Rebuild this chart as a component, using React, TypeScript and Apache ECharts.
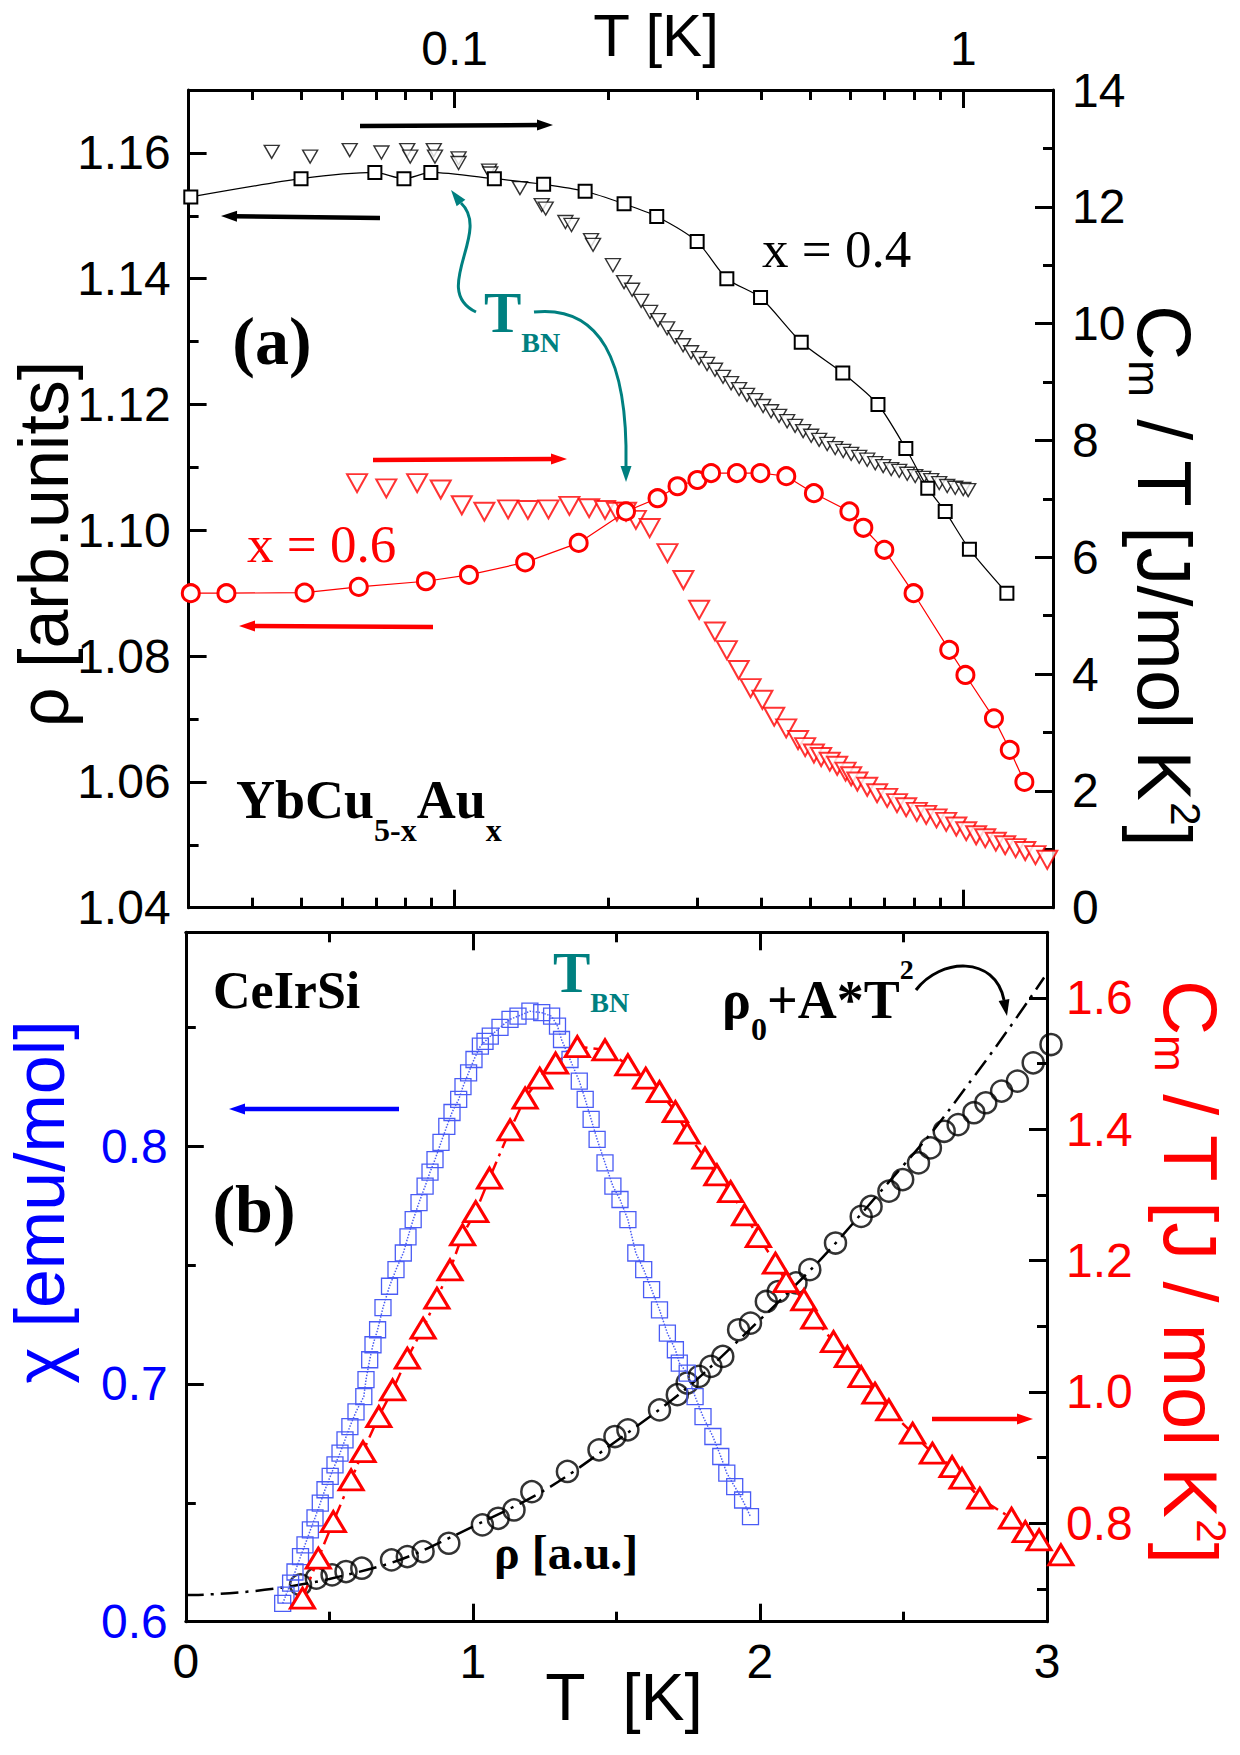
import React, { useEffect, useRef } from "react";
import * as echarts from "echarts";

const SANS = '"Liberation Sans", Arial, Helvetica, sans-serif';
const SERIF = '"Liberation Serif", "Times New Roman", Times, serif';
const RED = "#ff0000";
const BLUE = "#0000ff";
const TEAL = "#008080";
const SQBLUE = "#4a5cf5";

// ---------- Panel (a): YbCu5-xAux, T on log axis ----------
// x = 0.4 resistivity (squares, left axis)
const x04RhoT = [0.0303, 0.0499, 0.0697, 0.0795, 0.0898, 0.1197, 0.1496, 0.1805, 0.2153, 0.2496, 0.2997, 0.3428, 0.3993, 0.48, 0.5793, 0.6793, 0.7706, 0.8511, 0.9209, 1.0276, 1.2175];
const x04Rho = [1.153, 1.1559, 1.1569, 1.1559, 1.1569, 1.1559, 1.155, 1.1539, 1.1519, 1.1499, 1.1459, 1.14, 1.137, 1.1299, 1.125, 1.12, 1.113, 1.1067, 1.103, 1.097, 1.09];
// x = 0.4 Cm/T (down triangles, right axis)
const x04CmT = [0.0437, 0.052, 0.0622, 0.0718, 0.0807, 0.0818, 0.091, 0.0915, 0.1018, 0.1018, 0.1169, 0.1175, 0.1344, 0.1483, 0.151, 0.1651, 0.1697, 0.1854, 0.1871, 0.2047, 0.2153, 0.2233, 0.2326, 0.2422, 0.2511, 0.2616, 0.2713, 0.2812, 0.2916, 0.3023, 0.3134, 0.3249, 0.3369, 0.3494, 0.3623, 0.3756, 0.3895, 0.4039, 0.4188, 0.4343, 0.4503, 0.4669, 0.4842, 0.5021, 0.5206, 0.5398, 0.5597, 0.5804, 0.6018, 0.624, 0.647, 0.6709, 0.6956, 0.7212, 0.7478, 0.7754, 0.8039, 0.8336, 0.8643, 0.8962, 0.9292, 0.9636, 0.9991, 1.0219];
const x04Cm = [12.94, 12.86, 12.97, 12.93, 12.97, 12.86, 12.97, 12.86, 12.83, 12.75, 12.62, 12.57, 12.32, 12.03, 11.97, 11.74, 11.69, 11.43, 11.35, 11.0, 10.71, 10.58, 10.39, 10.2, 10.06, 9.92, 9.77, 9.63, 9.51, 9.41, 9.31, 9.21, 9.09, 8.98, 8.88, 8.78, 8.69, 8.59, 8.5, 8.42, 8.33, 8.25, 8.16, 8.08, 8.01, 7.94, 7.87, 7.82, 7.77, 7.72, 7.67, 7.61, 7.56, 7.51, 7.48, 7.43, 7.39, 7.36, 7.32, 7.27, 7.22, 7.19, 7.17, 7.15];
// x = 0.6 resistivity (circles, left axis)
const x06RhoT = [0.0303, 0.0356, 0.0507, 0.0648, 0.0878, 0.1067, 0.1376, 0.1753, 0.2172, 0.2505, 0.2742, 0.3, 0.3192, 0.3587, 0.399, 0.4486, 0.5083, 0.5969, 0.6358, 0.6992, 0.798, 0.9377, 1.0091, 1.1482, 1.2332, 1.3177];
const x06Rho = [1.09, 1.09, 1.0901, 1.091, 1.0919, 1.0929, 1.0949, 1.098, 1.103, 1.1051, 1.107, 1.108, 1.1091, 1.1091, 1.1091, 1.1086, 1.1059, 1.103, 1.1004, 1.0969, 1.09, 1.081, 1.077, 1.0701, 1.0651, 1.06];
// x = 0.6 Cm/T (down triangles, right axis)
const x06CmT = [0.0643, 0.0734, 0.0844, 0.0939, 0.1033, 0.1144, 0.1274, 0.1393, 0.1529, 0.1681, 0.1838, 0.1975, 0.2084, 0.2172, 0.2271, 0.2417, 0.262, 0.2816, 0.3024, 0.3248, 0.3428, 0.3617, 0.3817, 0.4026, 0.4248, 0.4484, 0.4731, 0.4886, 0.5084, 0.5253, 0.5462, 0.5648, 0.5866, 0.6018, 0.6188, 0.647, 0.6767, 0.7083, 0.7404, 0.7718, 0.8099, 0.8449, 0.8854, 0.9251, 0.9683, 1.0128, 1.0593, 1.1038, 1.158, 1.2082, 1.2666, 1.3228, 1.3854, 1.4615];
const x06Cm = [7.27, 7.18, 7.27, 7.16, 6.89, 6.78, 6.82, 6.81, 6.82, 6.88, 6.84, 6.81, 6.78, 6.78, 6.64, 6.5, 6.07, 5.61, 5.1, 4.73, 4.41, 4.07, 3.76, 3.56, 3.27, 3.07, 2.87, 2.75, 2.64, 2.58, 2.5, 2.43, 2.33, 2.25, 2.16, 2.07, 1.96, 1.88, 1.79, 1.72, 1.64, 1.59, 1.53, 1.47, 1.39, 1.31, 1.24, 1.19, 1.13, 1.07, 1.02, 0.97, 0.9, 0.82];

// ---------- Panel (b): CeIrSi, linear T ----------
const chiT = [0.3375, 0.349, 0.3651, 0.3804, 0.3996, 0.4152, 0.434, 0.4501, 0.4685, 0.4849, 0.503, 0.5197, 0.5372, 0.5546, 0.5716, 0.5929, 0.6201, 0.6277, 0.6406, 0.6521, 0.6681, 0.6869, 0.7096, 0.7322, 0.7577, 0.774, 0.7921, 0.8124, 0.8336, 0.8507, 0.8681, 0.889, 0.9092, 0.9273, 0.9506, 0.9656, 0.9851, 1.0039, 1.0262, 1.0423, 1.0607, 1.0945, 1.1294, 1.1572, 1.1987, 1.2398, 1.2743, 1.2948, 1.3088, 1.3384, 1.3707, 1.3913, 1.4119, 1.4328, 1.4603, 1.4878, 1.5125, 1.5401, 1.5676, 1.5951, 1.6226, 1.6501, 1.6776, 1.7055, 1.7191, 1.7466, 1.7741, 1.8017, 1.8361, 1.8636, 1.8846, 1.9121, 1.9396, 1.9671];
const chi = [0.6077, 0.6112, 0.6162, 0.6209, 0.6274, 0.6323, 0.6386, 0.6437, 0.6499, 0.6555, 0.6611, 0.666, 0.6709, 0.6765, 0.6821, 0.6883, 0.6947, 0.7018, 0.7102, 0.7165, 0.7228, 0.7321, 0.7411, 0.7481, 0.7551, 0.7619, 0.7691, 0.7763, 0.7832, 0.7891, 0.7944, 0.8016, 0.8084, 0.8142, 0.8197, 0.8251, 0.8309, 0.8365, 0.8421, 0.8441, 0.8463, 0.85, 0.8534, 0.8547, 0.8568, 0.8562, 0.8547, 0.8505, 0.8449, 0.8365, 0.8274, 0.8197, 0.8113, 0.8029, 0.793, 0.7832, 0.7776, 0.7691, 0.7551, 0.7481, 0.7397, 0.7312, 0.7214, 0.7144, 0.7088, 0.7046, 0.6947, 0.6863, 0.6779, 0.6695, 0.6625, 0.6568, 0.6512, 0.6442];
const cmT = [0.4065, 0.4616, 0.5138, 0.5758, 0.6173, 0.6723, 0.7204, 0.7716, 0.8266, 0.8747, 0.9203, 0.9642, 1.0099, 1.0579, 1.1297, 1.182, 1.2328, 1.2882, 1.3638, 1.4603, 1.54, 1.6021, 1.6501, 1.7055, 1.7466, 1.8086, 1.8501, 1.8981, 1.9466, 1.9946, 2.0539, 2.0911, 2.1531, 2.1876, 2.2563, 2.3047, 2.3527, 2.4008, 2.4492, 2.5318, 2.6008, 2.6694, 2.7039, 2.7659, 2.8763, 2.9244, 2.9725, 3.0484];
const cm = [0.6858, 0.7467, 0.8024, 0.866, 0.9091, 0.9624, 1.003, 1.0513, 1.097, 1.1427, 1.1858, 1.2391, 1.2746, 1.3255, 1.3991, 1.4474, 1.4778, 1.5007, 1.526, 1.521, 1.4981, 1.4778, 1.4574, 1.427, 1.3941, 1.356, 1.3305, 1.3051, 1.2696, 1.2366, 1.196, 1.168, 1.1401, 1.1123, 1.0766, 1.0538, 1.0233, 0.998, 0.9726, 0.9371, 0.9066, 0.8862, 0.8685, 0.8381, 0.8076, 0.7872, 0.7746, 0.7517];
const rhoT = [0.3996, 0.4546, 0.5096, 0.5581, 0.6131, 0.7166, 0.7716, 0.8266, 0.9162, 1.0332, 1.0882, 1.1433, 1.2053, 1.3293, 1.4394, 1.4948, 1.54, 1.6501, 1.7121, 1.7466, 1.7881, 1.8292, 1.8706, 1.9257, 1.9671, 2.0222, 2.0636, 2.1256, 2.1737, 2.2632, 2.3527, 2.3872, 2.4492, 2.4973, 2.5523, 2.5938, 2.6419, 2.6903, 2.7453, 2.7868, 2.8418, 2.8969, 2.9519, 3.0139];
const rho = [0.6155, 0.6183, 0.6197, 0.6211, 0.6225, 0.626, 0.6274, 0.6295, 0.633, 0.6407, 0.6435, 0.647, 0.6547, 0.6632, 0.6723, 0.6779, 0.6807, 0.6891, 0.6955, 0.7004, 0.7032, 0.7074, 0.7116, 0.7228, 0.7256, 0.7347, 0.7389, 0.7425, 0.7481, 0.7593, 0.7705, 0.7747, 0.7811, 0.786, 0.793, 0.7993, 0.8063, 0.8091, 0.8141, 0.8183, 0.8232, 0.8274, 0.8351, 0.8428];
// rho0 + A*T^2 curve
const fitT = [0, 0.5, 1.0, 1.5, 2.0, 2.5, 2.75, 2.99];
const fitV = [0.6112, 0.618, 0.64, 0.676, 0.727, 0.792, 0.83, 0.871];

// ---------- tick values ----------
const aTopMajor = [0.1, 1];
const aTopMinor = [0.04, 0.05, 0.06, 0.07, 0.08, 0.09, 0.2, 0.3, 0.4, 0.5, 0.6, 0.7, 0.8, 0.9];
const aLeftMajor = [1.04, 1.06, 1.08, 1.1, 1.12, 1.14, 1.16];
const aLeftMinor = [1.05, 1.07, 1.09, 1.11, 1.13, 1.15];
const aRightMajor = [0, 2, 4, 6, 8, 10, 12, 14];
const aRightMinor = [1, 3, 5, 7, 9, 11, 13];
const bXMajor = [0, 1, 2, 3];
const bXMinor = [0.5, 1.5, 2.5];
const bLeftMajor = [0.6, 0.7, 0.8];
const bLeftMinor = [0.65, 0.75, 0.85];
const bRightMajor = [0.8, 1.0, 1.2, 1.4, 1.6];
const bRightMinor = [0.7, 0.9, 1.1, 1.3, 1.5];

const pairs = (xs: number[], ys: number[]) => xs.map((x, i) => [x, ys[i]]);

function axis(base: any, major: boolean, ticks: number[], label?: any) {
  return {
    ...base,
    axisLine: { show: major, onZero: false, lineStyle: { color: "#000", width: 3 } },
    axisTick: {
      show: true,
      inside: true,
      length: major ? 18 : 10,
      customValues: ticks,
      lineStyle: { color: "#000", width: 3 },
    },
    axisLabel: label
      ? { show: true, customValues: ticks, fontSize: 48, fontFamily: SANS, ...label }
      : { show: false },
    splitLine: { show: false },
    axisPointer: { show: false },
  };
}

function txt(text: string, x: number, y: number, o: any) {
  return {
    type: "text",
    x,
    y,
    rotation: o.rot || 0,
    z: 100,
    silent: true,
    style: {
      text,
      fill: o.color || "#000",
      fontSize: o.size,
      fontFamily: o.family || SANS,
      fontWeight: o.weight || "normal",
      align: o.align || "left",
      verticalAlign: "middle",
      textAlign: o.align || "left",
      textVerticalAlign: "middle",
      rich: o.rich,
    },
  };
}

function arrow(x1: number, y1: number, x2: number, y2: number, color: string, w = 4.5, hl = 16, hw = 5.5) {
  const dx = x2 - x1, dy = y2 - y1, L = Math.hypot(dx, dy);
  const ux = dx / L, uy = dy / L;
  const bx = x2 - ux * hl, by = y2 - uy * hl;
  return [
    { type: "line", z: 90, silent: true, shape: { x1, y1, x2: bx + ux * 3, y2: by + uy * 3 }, style: { stroke: color, lineWidth: w } },
    { type: "polygon", z: 90, silent: true, shape: { points: [[x2, y2], [bx - uy * hw, by + ux * hw], [bx + uy * hw, by - ux * hw]] }, style: { fill: color } },
  ];
}

function curvedArrow(p0: number[], c1: number[], c2: number[], p3: number[], tip: number[], color: string, w = 3, hw = 5.5) {
  const dx = tip[0] - p3[0], dy = tip[1] - p3[1], L = Math.hypot(dx, dy);
  const ux = dx / L, uy = dy / L;
  return [
    {
      type: "bezierCurve", z: 90, silent: true,
      shape: { x1: p0[0], y1: p0[1], cpx1: c1[0], cpy1: c1[1], cpx2: c2[0], cpy2: c2[1], x2: p3[0], y2: p3[1] },
      style: { stroke: color, lineWidth: w, fill: null },
    },
    {
      type: "polygon", z: 90, silent: true,
      shape: { points: [tip, [p3[0] - uy * hw, p3[1] + ux * hw], [p3[0] + uy * hw, p3[1] - ux * hw]] },
      style: { fill: color },
    },
  ];
}

const subRich = (color: string, main: number, lh: number, sub: number, subLh: number, fam: string, weight: string, sup?: number, supLh?: number) => ({
  a: { fontSize: main, lineHeight: lh, fontFamily: fam, fontWeight: weight, fill: color, verticalAlign: "middle" },
  s: { fontSize: sub, lineHeight: subLh, fontFamily: fam, fontWeight: weight, fill: color, verticalAlign: "bottom" },
  p: { fontSize: sup || sub, lineHeight: supLh || subLh, fontFamily: fam, fontWeight: weight, fill: color, verticalAlign: "top" },
});

const logA = { gridIndex: 0, type: "log", logBase: 10, min: 0.03, max: 1.5 };
const linB = { gridIndex: 1, type: "value", min: 0, max: 3 };

const option: any = {
  animation: false,
  backgroundColor: "#ffffff",
  textStyle: { fontFamily: SANS },
  grid: [
    { left: 188.6, top: 90, width: 864.4, height: 817.7, containLabel: false, outerBoundsMode: "none" },
    { left: 185.8, top: 932.3, width: 861.2, height: 689.4, containLabel: false, outerBoundsMode: "none" },
  ],
  xAxis: [
    axis({ ...logA, position: "top" }, true, aTopMajor, { color: "#000", margin: 18, formatter: (v: number) => (v < 0.5 ? "0.1" : "1") }),
    axis({ ...logA, position: "top" }, false, aTopMinor),
    axis({ ...logA, position: "bottom" }, true, aTopMajor),
    axis({ ...logA, position: "bottom" }, false, aTopMinor),
    axis({ ...linB, position: "bottom" }, true, bXMajor, { color: "#000", margin: 16, formatter: (v: number) => String(v) }),
    axis({ ...linB, position: "bottom" }, false, bXMinor),
    axis({ ...linB, position: "top" }, true, bXMajor),
    axis({ ...linB, position: "top" }, false, bXMinor),
  ],
  yAxis: [
    axis({ gridIndex: 0, type: "value", min: 1.04, max: 1.17, position: "left" }, true, aLeftMajor, { color: "#000", margin: 18, formatter: (v: number) => v.toFixed(2) }),
    axis({ gridIndex: 0, type: "value", min: 1.04, max: 1.17, position: "left" }, false, aLeftMinor),
    axis({ gridIndex: 0, type: "value", min: 0, max: 14, position: "right" }, true, aRightMajor, { color: "#000", margin: 19, formatter: (v: number) => String(v) }),
    axis({ gridIndex: 0, type: "value", min: 0, max: 14, position: "right" }, false, aRightMinor),
    axis({ gridIndex: 1, type: "value", min: 0.6, max: 0.89, position: "left" }, true, bLeftMajor, { color: BLUE, margin: 18, formatter: (v: number) => v.toFixed(1) }),
    axis({ gridIndex: 1, type: "value", min: 0.6, max: 0.89, position: "left" }, false, bLeftMinor),
    axis({ gridIndex: 1, type: "value", min: 0.65, max: 1.7, position: "right" }, true, bRightMajor, { color: RED, margin: 19, formatter: (v: number) => v.toFixed(1) }),
    axis({ gridIndex: 1, type: "value", min: 0.65, max: 1.7, position: "right" }, false, bRightMinor),
  ],
  series: [
    {
      name: "x=0.4 rho", type: "line", xAxisIndex: 0, yAxisIndex: 0, data: pairs(x04RhoT, x04Rho),
      smooth: 0.25, symbol: "rect", symbolSize: 13, showSymbol: true,
      lineStyle: { color: "#000", width: 1.2 },
      itemStyle: { color: "#fff", borderColor: "#000", borderWidth: 2 },
    },
    {
      name: "x=0.4 C/T", type: "scatter", xAxisIndex: 0, yAxisIndex: 2, data: pairs(x04CmT, x04Cm),
      symbol: "triangle", symbolRotate: 180, symbolSize: [15, 13],
      itemStyle: { color: "#fff", borderColor: "#000", borderWidth: 1.4 },
    },
    {
      name: "x=0.6 rho", type: "line", xAxisIndex: 0, yAxisIndex: 0, data: pairs(x06RhoT, x06Rho),
      symbol: "circle", symbolSize: 17, showSymbol: true,
      lineStyle: { color: RED, width: 1.2 },
      itemStyle: { color: "#fff", borderColor: RED, borderWidth: 3 },
    },
    {
      name: "x=0.6 C/T", type: "scatter", xAxisIndex: 0, yAxisIndex: 2, data: pairs(x06CmT, x06Cm), clip: false,
      symbol: "triangle", symbolRotate: 180, symbolSize: [20, 18],
      itemStyle: { color: "#fff", borderColor: RED, borderWidth: 2 },
    },
    {
      name: "chi", type: "line", xAxisIndex: 4, yAxisIndex: 4, data: pairs(chiT, chi),
      symbol: "rect", symbolSize: 16, showSymbol: true,
      lineStyle: { color: SQBLUE, width: 1.5, type: "dotted" },
      itemStyle: { color: "rgba(255,255,255,0)", borderColor: SQBLUE, borderWidth: 1.3 },
    },
    {
      name: "Cm/T", type: "line", xAxisIndex: 4, yAxisIndex: 6, data: pairs(cmT, cm), clip: false,
      symbol: "triangle", symbolSize: [24, 20], showSymbol: true,
      lineStyle: { color: RED, width: 2.5, type: [14, 6, 3, 6] },
      itemStyle: { color: "#fff", borderColor: RED, borderWidth: 3 },
    },
    {
      name: "rho0+A*T^2", type: "line", xAxisIndex: 4, yAxisIndex: 4, data: pairs(fitT, fitV),
      smooth: true, showSymbol: false, symbol: "none",
      lineStyle: { color: "#000", width: 2.5, type: [18, 7, 3, 7] },
    },
    {
      name: "rho", type: "scatter", xAxisIndex: 4, yAxisIndex: 4, data: pairs(rhoT, rho), clip: false,
      symbol: "circle", symbolSize: 21,
      itemStyle: { color: "rgba(0,0,0,0)", borderColor: "#000", borderWidth: 2.5 },
    },
  ],
  graphic: [
    // axis titles
    txt("T [K]", 656, 35, { size: 60, align: "center" }),
    txt("T\u00a0\u00a0[K]", 624, 1697, { size: 66, align: "center" }),
    txt("\u03c1 [arb.units]", 44, 544, { size: 70, align: "center", rot: Math.PI / 2 }),
    txt("{a|C}{s|m}{a| / T [J/mol K}{p|2}{a|]}", 1164, 576, {
      size: 76, align: "center", rot: -Math.PI / 2, rich: subRich("#000", 76, 84, 44, 6, SANS, "normal", 42, 38),
    }),
    txt("\u03c7 [emu/mol]", 40, 1202, { size: 70, align: "center", rot: Math.PI / 2, color: BLUE }),
    txt("{a|C}{s|m}{a| / T [J / mol K}{p|2}{a|]}", 1190, 1272, {
      size: 76, align: "center", rot: -Math.PI / 2, color: RED, rich: subRich(RED, 76, 84, 44, 6, SANS, "normal", 42, 38),
    }),
    // panel (a) annotations
    txt("(a)", 272, 341, { size: 68, align: "center", family: SERIF, weight: "bold" }),
    txt("{a|T}{s|BN}", 484, 313, { size: 56, family: SERIF, weight: "bold", color: TEAL, rich: subRich(TEAL, 56, 87, 28, 28, SERIF, "bold") }),
    txt("x = 0.4", 762, 249, { size: 53, family: SERIF }),
    txt("x = 0.6", 247, 544, { size: 53, family: SERIF, color: RED }),
    txt("{a|YbCu}{s|5-x}{a|Au}{s|x}", 236, 800, { size: 54, family: SERIF, weight: "bold", rich: subRich("#000", 54, 92, 32, 32, SERIF, "bold") }),
    ...arrow(360, 126, 553, 125, "#000"),
    ...arrow(380, 218, 221, 216, "#000"),
    ...arrow(373, 460, 567, 459, RED),
    ...arrow(433, 627, 239, 626, RED),
    ...curvedArrow([476, 312], [430, 290], [492, 232], [461, 203], [451, 190], TEAL),
    ...curvedArrow([534, 312], [600, 305], [628, 360], [626, 466], [626, 482], TEAL),
    // panel (b) annotations
    txt("CeIrSi", 213, 990, { size: 52, family: SERIF, weight: "bold" }),
    txt("(b)", 254, 1209, { size: 68, align: "center", family: SERIF, weight: "bold" }),
    txt("{a|T}{s|BN}", 553, 973, { size: 56, family: SERIF, weight: "bold", color: TEAL, rich: subRich(TEAL, 56, 87, 28, 28, SERIF, "bold") }),
    txt("{a|\u03c1}{s|0}{a|+A*T}{p|2}", 722, 1000, {
      size: 54, family: SERIF, weight: "bold", rich: {
        a: { fontSize: 54, lineHeight: 90, fontFamily: SERIF, fontWeight: "bold", fill: "#000", verticalAlign: "middle" },
        s: { fontSize: 32, lineHeight: 32, fontFamily: SERIF, fontWeight: "bold", fill: "#000", verticalAlign: "bottom" },
        p: { fontSize: 28, lineHeight: 51, fontFamily: SERIF, fontWeight: "bold", fill: "#000", verticalAlign: "top" },
      },
    }),
    txt("\u03c1 [a.u.]", 494, 1552, { size: 48, family: SERIF, weight: "bold" }),
    ...arrow(399, 1109, 229, 1109, BLUE),
    ...arrow(932, 1419, 1033, 1419, RED),
    ...curvedArrow([916, 990], [940, 958], [995, 955], [1004, 1000], [1007, 1016], "#000"),
  ],
};

export default function App() {
  const ref = useRef<HTMLDivElement>(null);
  useEffect(() => {
    const chart = echarts.init(ref.current!, undefined, { renderer: "svg", width: 1240, height: 1755 });
    chart.setOption(option);
    return () => chart.dispose();
  }, []);
  return (
    <div
      ref={ref}
      style={{ position: "absolute", left: 0, top: 0, width: 1240, height: 1755, background: "#fff" }}
    />
  );
}
